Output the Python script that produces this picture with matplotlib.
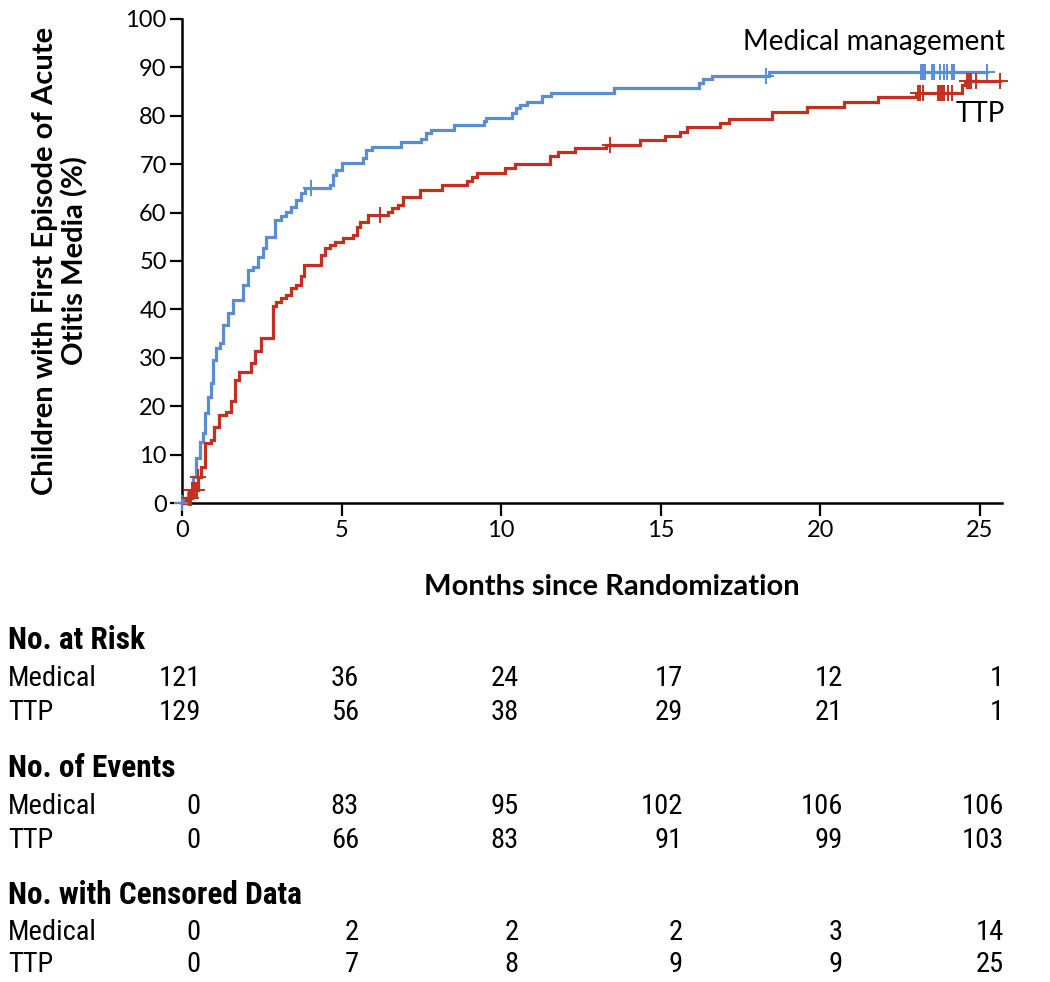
import matplotlib
matplotlib.use("Agg")
import matplotlib.pyplot as plt
from matplotlib import font_manager
import numpy as np

# ---------------- data ----------------
med_times = [0, 0.03, 0.19, 0.34, 0.45, 0.55, 0.66, 0.71, 0.82, 0.92, 0.97, 1.05, 1.18,
             1.29, 1.44, 1.6, 1.91, 2.07, 2.23, 2.38, 2.54, 2.64, 2.93, 3.11, 3.27, 3.43,
             3.58, 3.74, 3.85, 4.63, 4.73, 4.84, 5.0, 5.67, 5.77, 5.97, 6.87, 7.49, 7.65,
             7.8, 8.53, 9.47, 9.52, 10.33, 10.46, 10.58, 10.82, 11.29, 11.55, 13.53, 16.19,
             16.34, 16.6, 18.4]
med_values = [0, 1.0, 2.0, 5.4, 9.2, 12.7, 14.4, 18.5, 22.0, 24.7, 29.5, 32.0, 33.0,
              36.8, 39.2, 41.9, 45.0, 48.1, 48.8, 50.9, 52.6, 55.0, 58.5, 59.2, 60.2, 61.2,
              62.6, 64.0, 65.0, 65.7, 67.8, 68.8, 70.2, 71.3, 72.9, 73.6, 74.6, 75.3, 76.4,
              77.1, 78.0, 78.9, 79.6, 80.6, 81.7, 82.3, 82.9, 84.0, 84.8, 85.7, 86.7,
              87.5, 88.3, 89.0]
med_end = 25.22
med_censor = [0.0, 4.05, 18.3, 23.15, 23.22, 23.3, 23.5, 23.56, 23.76, 23.87, 23.97,
              24.13, 24.2, 25.22]

ttp_times = [0, 0.13, 0.3, 0.5, 0.6, 0.71, 0.92, 1.0, 1.15, 1.39, 1.55, 1.65, 1.8, 2.17,
             2.3, 2.49, 2.85, 2.96, 3.11, 3.27, 3.43, 3.58, 3.74, 3.82, 4.37, 4.47, 4.63,
             4.8, 5.06, 5.37, 5.48, 5.58, 5.84, 6.47, 6.57, 6.78, 6.94, 7.46, 8.14, 8.92,
             9.08, 9.24, 10.13, 10.44, 11.54, 11.8, 12.32, 13.3, 14.36, 15.14, 15.61, 15.82,
             16.87, 17.13, 18.5, 19.6, 20.75, 21.8, 23.0, 24.45, 24.55]
ttp_values = [0, 1.0, 2.7, 5.4, 7.5, 12.3, 13.0, 15.8, 18.2, 18.9, 21.0, 25.4, 27.1, 28.9,
              31.5, 34.0, 40.6, 41.6, 42.3, 43.0, 44.4, 45.0, 46.8, 49.2, 51.2, 52.6, 53.3,
              54.0, 54.7, 55.4, 57.1, 58.1, 59.5, 60.2, 60.9, 61.6, 63.3, 64.7, 65.7, 66.6,
              67.3, 68.2, 69.2, 70.0, 71.6, 72.6, 73.3, 74.0, 75.1, 75.8, 76.7, 77.6,
              78.6, 79.4, 80.8, 81.9, 82.9, 83.9, 84.7, 86.3, 87.1]
ttp_end = 25.64
ttp_censor = [0.22, 0.27, 0.31, 0.36, 0.41, 0.46, 0.5, 6.21, 13.4,
              23.07, 23.14, 23.22, 23.7, 23.76, 23.82, 23.88, 24.0, 24.13,
              24.6, 24.66, 24.72, 24.9, 25.64]

xticks = [0, 5, 10, 15, 20, 25]
yticks = list(range(0, 101, 10))

risk_med = [121, 36, 24, 17, 12, 1]
risk_ttp = [129, 56, 38, 29, 21, 1]
events_med = [0, 83, 95, 102, 106, 106]
events_ttp = [0, 66, 83, 91, 99, 103]
cens_med = [0, 2, 2, 2, 3, 14]
cens_ttp = [0, 7, 8, 9, 9, 25]

BLUE = "#5b8dd0"
RED = "#c3301f"

# ---------------- fonts ----------------
avail = {f.name for f in font_manager.fontManager.ttflist}
def pick(names):
    for n in names:
        if n in avail:
            return n
    return "DejaVu Sans"
F_REG = pick(["Lato", "Open Sans", "Noto Sans"])
F_COND = pick(["Liberation Sans Narrow", "Roboto Condensed", "Open Sans Condensed", "Lato"])

plt.rcParams["font.family"] = [F_REG, "DejaVu Sans"]

fig = plt.figure(figsize=(10.5, 9.82), dpi=100)
ax = fig.add_axes([182/1050, 1-503/982, 820/1050, 484/982])


def step_series(times, values, end):
    t = list(times) + [end]
    v = list(values) + [values[-1]]
    return t, v

def value_at(times, values, x):
    idx = np.searchsorted(times, x, side="right") - 1
    return values[max(idx, 0)]

for times, values, end, cens, col in [
        (med_times, med_values, med_end, med_censor, BLUE),
        (ttp_times, ttp_values, ttp_end, ttp_censor, RED)]:
    t, v = step_series(times, values, end)
    ax.step(t, v, where="post", color=col, lw=2.3, solid_joinstyle="miter", clip_on=False, zorder=3)
    cy = [value_at(times, values, c) for c in cens]
    ax.plot(cens, cy, ls="none", marker="+", ms=11, mew=1.4, color=col, clip_on=False, zorder=4)

ax.set_xlim(0, 25.7)
ax.set_ylim(0, 100)
ax.set_xticks(xticks)
ax.set_yticks(yticks)
ax.tick_params(axis="both", direction="out", length=9, width=1.6, labelsize=17, colors="black")
ax.tick_params(axis="x", pad=3)
ax.tick_params(axis="y", pad=2)
for s in ["top", "right"]:
    ax.spines[s].set_visible(False)
for s in ["left", "bottom"]:
    ax.spines[s].set_linewidth(1.8)

ax.set_xlabel("Months since Randomization", fontsize=21, fontweight="bold", va="center")
ax.xaxis.set_label_coords((612-182)/820, (503-587)/484)
ax.set_ylabel("Children with First Episode of Acute\nOtitis Media (%)", fontsize=21,
              fontweight="bold", linespacing=1.15, va="center")
ax.yaxis.set_label_coords((60-182)/820, 0.50)

ax.text(25.8, 95.2, "Medical management", fontsize=20, ha="right", va="center")
ax.text(25.8, 80.4, "TTP", fontsize=20, ha="right", va="center")

# ---------------- table ----------------
def fy(py):
    return 1 - py / 982

col_right_px = [201, 359, 519, 683, 843, 1004]

def row(label, vals, py):
    fig.text(8/1050, fy(py), label, fontsize=20.5, family=F_COND, ha="left", va="center")
    for xp, v in zip(col_right_px, vals):
        fig.text(xp/1050, fy(py), str(v), fontsize=20.5, family=F_COND, ha="right", va="center")

def header(label, py):
    fig.text(8/1050, fy(py), label, fontsize=22.5, family=F_COND, fontweight="bold",
             ha="left", va="center")

header("No. at Risk", 640)
row("Medical", risk_med, 679)
row("TTP", risk_ttp, 712)
header("No. of Events", 768)
row("Medical", events_med, 806)
row("TTP", events_ttp, 840)
header("No. with Censored Data", 895)
row("Medical", cens_med, 932)
row("TTP", cens_ttp, 965)

fig.savefig("out.png", dpi=100)
